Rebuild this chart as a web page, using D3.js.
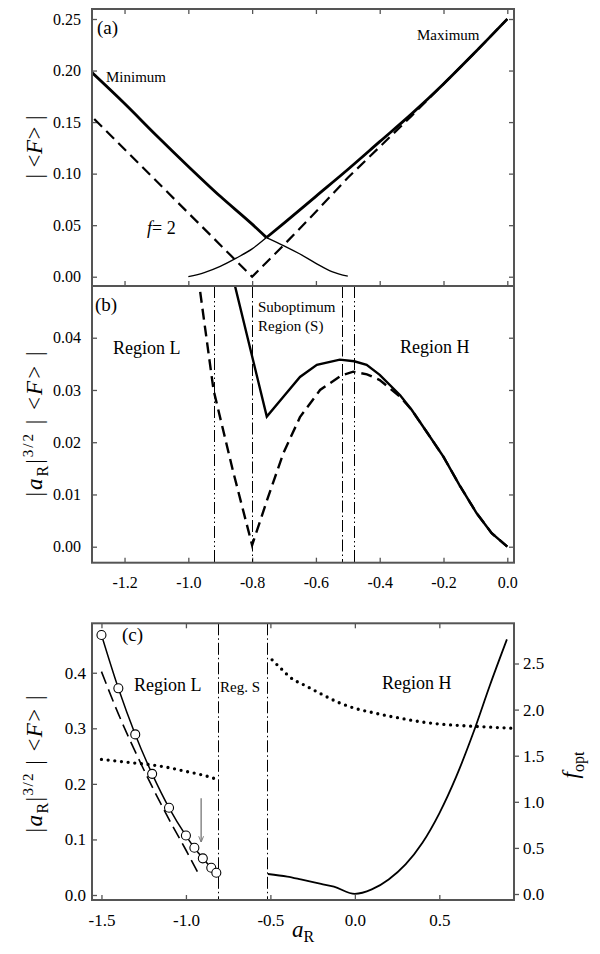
<!DOCTYPE html>
<html><head><meta charset="utf-8">
<script src="https://cdn.jsdelivr.net/npm/d3@7"></script>
<style>
body{margin:0;background:#fff}
svg{display:block}
text{font-family:"Liberation Serif","Times New Roman",serif;fill:#000}
</style>
</head><body>
<svg id="chart" width="600" height="954"></svg>
<script>
// ---------- DATA ----------
// Panel (a)
const aMinX = [-1.302, -1.2, -1.1, -1.0, -0.9, -0.8, -0.755];
const aMinY = [0.198, 0.168, 0.137, 0.107, 0.078, 0.051, 0.038];
const aMinTailX = [-0.755, -0.7, -0.65, -0.6, -0.55, -0.5];
const aMinTailY = [0.038, 0.030, 0.022, 0.013, 0.005, 0.0005];
const aMaxTailX = [-1.0, -0.95, -0.9, -0.85, -0.8, -0.755];
const aMaxTailY = [0.0, 0.004, 0.010, 0.018, 0.027, 0.038];
const aMaxX = [-0.755, -0.7, -0.6, -0.5, -0.4, -0.3, -0.2, -0.1, 0.0];
const aMaxY = [0.038, 0.052, 0.078, 0.104, 0.131, 0.158, 0.187, 0.218, 0.250];
const aF2X = [-1.295, -0.8, -0.7, -0.6, -0.5, -0.4, -0.3, -0.2, -0.1, 0.0];
const aF2Y = [0.153, 0.0, 0.031, 0.063, 0.096, 0.126, 0.156, 0.187, 0.218, 0.250];
// Panel (b)
const bSolidX = [-0.87, -0.754, -0.702, -0.65, -0.597, -0.525, -0.48, -0.441, -0.4, -0.336, -0.3, -0.253, -0.2, -0.15, -0.096, -0.049, 0.0];
const bSolidY = [0.054, 0.0249, 0.0287, 0.0325, 0.0348, 0.0358, 0.0355, 0.0348, 0.0329, 0.0290, 0.0262, 0.0220, 0.0172, 0.0118, 0.0064, 0.0026, 0.0];
const bDashX = [-0.97, -0.921, -0.86, -0.8, -0.75, -0.702, -0.65, -0.587, -0.52, -0.483, -0.44, -0.4, -0.336, -0.3, -0.253, -0.2, -0.15, -0.096, -0.049, 0.0];
const bDashY = [0.052, 0.030, 0.0145, 0.0003, 0.0095, 0.0179, 0.0248, 0.0300, 0.0328, 0.0335, 0.0330, 0.0319, 0.0287, 0.0262, 0.0220, 0.0172, 0.0118, 0.0064, 0.0026, 0.0];
const bBounds = [-0.921, -0.8, -0.519, -0.481];
// Panel (c)
const cCircX = [-1.5, -1.4, -1.3, -1.2, -1.1, -1.0, -0.95, -0.9, -0.85, -0.82];
const cCircY = [0.468, 0.372, 0.289, 0.218, 0.157, 0.107, 0.085, 0.066, 0.049, 0.040];
const cDashX = [-1.5, -1.4, -1.3, -1.2, -1.1, -1.0, -0.92];
const cDashY = [0.402, 0.326, 0.258, 0.195, 0.136, 0.081, 0.035];
const cFoptLX = [-1.5, -1.4, -1.3, -1.2, -1.1, -1.0, -0.9, -0.81];
const cFoptLY = [1.46, 1.44, 1.42, 1.40, 1.37, 1.33, 1.29, 1.24];
const cFoptHX = [-0.49, -0.44, -0.36, -0.32, -0.2, -0.1, 0.0, 0.1, 0.2, 0.27, 0.4, 0.5, 0.6, 0.74, 0.85, 0.94];
const cFoptHY = [2.54, 2.45, 2.32, 2.285, 2.17, 2.08, 2.014, 1.97, 1.93, 1.906, 1.865, 1.844, 1.83, 1.815, 1.805, 1.797];
const cHX = [-0.515, -0.4, -0.32, -0.2, -0.124, 0.0, 0.1, 0.2, 0.3, 0.4, 0.5, 0.6, 0.7, 0.8, 0.9];
const cHY = [0.0378, 0.033, 0.028, 0.020, 0.015, 0.002, 0.010, 0.028, 0.055, 0.094, 0.147, 0.213, 0.291, 0.378, 0.460];
const cBounds = [-0.81, -0.52];
const cArrowX = [-0.91];
const cArrowY = [0.174, 0.096];
// Ticks
const abXTicks = [-1.2, -1.0, -0.8, -0.6, -0.4, -0.2, 0.0];
const aYTicks = [0, 0.05, 0.10, 0.15, 0.20, 0.25];
const bYTicks = [0, 0.01, 0.02, 0.03, 0.04];
const cXTicks = [-1.5, -1.0, -0.5, 0.0, 0.5];
const cYTicks = [0, 0.1, 0.2, 0.3, 0.4];
const cY2Ticks = [0, 0.5, 1.0, 1.5, 2.0, 2.5];

// ---------- LAYOUT ----------
const SERIF = '"Liberation Serif","Times New Roman",serif';
const svg = d3.select("#chart");
const L = 92, R = 514;
const aTop = 9, aBot = 286, bBot = 562.7, cTop = 623.3, cBot = 900;

const xAB = d3.scaleLinear().domain([-1.302, 0.021]).range([L, R]);
const yA = d3.scaleLinear().domain([-0.009, 0.2597]).range([aBot, aTop]);
const yB = d3.scaleLinear().domain([-0.00306, 0.0499]).range([bBot, aBot]);
const xC = d3.scaleLinear().domain([-1.556, 0.942]).range([L, R]);
const yC = d3.scaleLinear().domain([-0.009, 0.489]).range([cBot, cTop]);
const yC2 = d3.scaleLinear().domain([-0.065, 2.936]).range([cBot, cTop]);

const zip = (xs, ys) => xs.map((x, i) => [x, ys[i]]);
const f1 = d => d.toFixed(1);
const f2 = d => d.toFixed(2);

const defs = svg.append("defs");
function clip(id, x0, y0, x1, y1) {
  defs.append("clipPath").attr("id", id).append("rect")
    .attr("x", x0).attr("y", y0).attr("width", x1 - x0).attr("height", y1 - y0);
}
clip("clipA", L, aTop, R, aBot);
clip("clipB", L, aBot, R, bBot);
clip("clipC", L, cTop, R, cBot);
defs.append("marker").attr("id", "arr").attr("viewBox", "0 0 10 10")
  .attr("refX", 9).attr("refY", 5).attr("markerWidth", 6).attr("markerHeight", 10)
  .attr("markerUnits", "userSpaceOnUse").attr("orient", "auto")
  .append("path").attr("d", "M0,1 L10,5 L0,9").attr("fill", "none").attr("stroke", "#777").attr("stroke-width", 1.6);

function line(g, data, xs, ys, style, curve) {
  const gen = d3.line().x(d => xs(d[0])).y(d => ys(d[1])).curve(curve || d3.curveMonotoneX);
  const p = g.append("path").attr("d", gen(data)).attr("fill", "none").attr("stroke", "#000");
  Object.entries(style).forEach(([k, v]) => p.attr(k, v));
  return p;
}

function styleAxis(g, size) {
  g.attr("font-family", SERIF).attr("font-size", size);
  g.select(".domain").remove();
  g.selectAll(".tick line").attr("stroke", "#555").attr("stroke-width", 1.3);
  g.selectAll(".tick text").attr("font-size", size).attr("fill", "#000")
    .style("font-family", SERIF);
}

// ---------- PANEL A ----------
const gA = svg.append("g");
styleAxis(gA.append("g").attr("transform", `translate(${L},0)`)
  .call(d3.axisLeft(yA).tickValues(aYTicks).tickSize(-5).tickPadding(11).tickFormat(f2)), 16);
styleAxis(gA.append("g").attr("transform", `translate(${R},0)`)
  .call(d3.axisRight(yA).tickValues(aYTicks).tickSize(-5).tickFormat("")), 16);
styleAxis(gA.append("g").attr("transform", `translate(0,${aTop})`)
  .call(d3.axisTop(xAB).tickValues(abXTicks).tickSize(-5).tickFormat("")), 16);
styleAxis(gA.append("g").attr("transform", `translate(0,${aBot})`)
  .call(d3.axisBottom(xAB).tickValues(abXTicks).tickSize(-5).tickFormat("")), 16);

const pA = gA.append("g").attr("clip-path", "url(#clipA)");
line(pA, zip(aMinX, aMinY), xAB, yA, {"stroke-width": 2.8});
line(pA, zip(aMinTailX, aMinTailY), xAB, yA, {"stroke-width": 1.3});
line(pA, zip(aMaxTailX, aMaxTailY), xAB, yA, {"stroke-width": 1.3});
line(pA, zip(aMaxX, aMaxY), xAB, yA, {"stroke-width": 2.8});
line(pA, zip(aF2X, aF2Y), xAB, yA, {"stroke-width": 2.2, "stroke-dasharray": "11,6"}, d3.curveLinear);

gA.append("text").attr("x", 97).attr("y", 34).attr("font-size", 19).text("(a)");
gA.append("text").attr("x", 106).attr("y", 82).attr("font-size", 15).text("Minimum");
gA.append("text").attr("x", 417).attr("y", 40).attr("font-size", 15).text("Maximum");
const tf = gA.append("text").attr("x", 147).attr("y", 234).attr("font-size", 18);
tf.append("tspan").attr("font-style", "italic").text("f");
tf.append("tspan").text("= 2");

// ---------- PANEL B ----------
const gB = svg.append("g");
styleAxis(gB.append("g").attr("transform", `translate(${L},0)`)
  .call(d3.axisLeft(yB).tickValues(bYTicks).tickSize(-5).tickPadding(11).tickFormat(f2)), 16);
styleAxis(gB.append("g").attr("transform", `translate(${R},0)`)
  .call(d3.axisRight(yB).tickValues(bYTicks).tickSize(-5).tickFormat("")), 16);
styleAxis(gB.append("g").attr("transform", `translate(0,${bBot})`)
  .call(d3.axisBottom(xAB).tickValues(abXTicks).tickSize(-5).tickPadding(14).tickFormat(f1)), 16);

const bStyles = ["12,3,1.5,3,1.5,3", "12,3,1.5,3", "12,3,1.5,3", "12,3,1.5,3,1.5,3"];
gB.selectAll("line.bb").data(bBounds).enter().append("line")
  .attr("x1", d => Math.round(xAB(d)) + 0.5).attr("x2", d => Math.round(xAB(d)) + 0.5)
  .attr("y1", aBot).attr("y2", bBot)
  .attr("stroke", "#000").attr("stroke-width", 1)
  .attr("stroke-dasharray", (d, i) => bStyles[i]);

const pB = gB.append("g").attr("clip-path", "url(#clipB)");
line(pB, zip(bDashX, bDashY), xAB, yB, {"stroke-width": 2.4, "stroke-dasharray": "11,6"}, d3.curveLinear);
line(pB, zip(bSolidX, bSolidY), xAB, yB, {"stroke-width": 2.4}, d3.curveLinear);

gB.append("text").attr("x", 95).attr("y", 311).attr("font-size", 19).text("(b)");
gB.append("text").attr("x", 113).attr("y", 354).attr("font-size", 18).text("Region L");
gB.append("text").attr("x", 258).attr("y", 312).attr("font-size", 15).text("Suboptimum");
gB.append("text").attr("x", 258).attr("y", 331).attr("font-size", 15).text("Region (S)");
gB.append("text").attr("x", 400).attr("y", 353).attr("font-size", 18).text("Region H");

// ---------- PANEL C ----------
const gC = svg.append("g");
styleAxis(gC.append("g").attr("transform", `translate(${L},0)`)
  .call(d3.axisLeft(yC).tickValues(cYTicks).tickSize(-5).tickPadding(6).tickFormat(f1)), 17);
styleAxis(gC.append("g").attr("transform", `translate(${R},0)`)
  .call(d3.axisRight(yC2).tickValues(cY2Ticks).tickSize(5).tickPadding(4).tickFormat(f1)), 17);
styleAxis(gC.append("g").attr("transform", `translate(0,${cBot})`)
  .call(d3.axisBottom(xC).tickValues(cXTicks).tickSize(-5).tickPadding(14).tickFormat(f1)), 17);
styleAxis(gC.append("g").attr("transform", `translate(0,${cTop})`)
  .call(d3.axisTop(xC).tickValues(cXTicks).tickSize(-5).tickFormat("")), 17);

gC.selectAll("line.cb").data(cBounds).enter().append("line")
  .attr("x1", d => Math.round(xC(d)) + 0.5).attr("x2", d => Math.round(xC(d)) + 0.5)
  .attr("y1", cTop).attr("y2", cBot)
  .attr("stroke", "#000").attr("stroke-width", 1)
  .attr("stroke-dasharray", "12,3,1.5,3");

const pC = gC.append("g").attr("clip-path", "url(#clipC)");
line(pC, zip(cDashX, cDashY), xC, yC, {"stroke-width": 1.6, "stroke-dasharray": "13,6"});
line(pC, zip(cFoptLX, cFoptLY), xC, yC2, {"stroke-width": 3.3, "stroke-dasharray": "0,6.7", "stroke-linecap": "round"});
line(pC, zip(cFoptHX, cFoptHY), xC, yC2, {"stroke-width": 3.3, "stroke-dasharray": "0,6.7", "stroke-linecap": "round"});
line(pC, zip(cHX, cHY), xC, yC, {"stroke-width": 1.8});
line(pC, zip(cCircX, cCircY), xC, yC, {"stroke-width": 1.5});
pC.selectAll("circle").data(zip(cCircX, cCircY)).enter().append("circle")
  .attr("cx", d => xC(d[0])).attr("cy", d => yC(d[1])).attr("r", 4.5)
  .attr("fill", "#fff").attr("stroke", "#000").attr("stroke-width", 1.1);

gC.append("line")
  .attr("x1", xC(cArrowX[0])).attr("x2", xC(cArrowX[0]))
  .attr("y1", yC(cArrowY[0])).attr("y2", yC(cArrowY[1]))
  .attr("stroke", "#777").attr("stroke-width", 1.3).attr("marker-end", "url(#arr)");

gC.append("text").attr("x", 122).attr("y", 641).attr("font-size", 19).text("(c)");
gC.append("text").attr("x", 134).attr("y", 691).attr("font-size", 18).text("Region L");
gC.append("text").attr("x", 220).attr("y", 692).attr("font-size", 15).text("Reg. S");
gC.append("text").attr("x", 382).attr("y", 689).attr("font-size", 18).text("Region H");

// ---------- FRAMES ----------
[[aTop, aBot], [aBot, bBot], [cTop, cBot]].forEach(([t, b]) => {
  svg.append("rect").attr("x", L).attr("y", t).attr("width", R - L).attr("height", b - t)
    .attr("fill", "none").attr("stroke", "#555").attr("stroke-width", 2);
});

// ---------- AXIS TITLES ----------
function ylab(cx, cy, size, len, parts) {
  const t = svg.append("text").attr("transform", `translate(${cx},${cy}) rotate(-90)`)
    .attr("text-anchor", "middle").attr("font-size", size);
  if (len) t.attr("textLength", len).attr("lengthAdjust", "spacing");
  parts.forEach(p => {
    const s = t.append("tspan").text(p.t);
    if (p.i) s.attr("font-style", "italic");
    if (p.fs) s.attr("font-size", p.fs);
    if (p.dy) s.attr("dy", p.dy);
  });
  return t;
}
ylab(42, 147, 23, 63, [{t: "| <"}, {t: "F", i: 1}, {t: "> |"}]);
const longLab = [{t: "|"}, {t: "a", i: 1}, {t: "R", fs: 16, dy: 6}, {t: "|", dy: -6}, {t: "3/2", fs: 15, dy: -9}, {t: " | <", dy: 9}, {t: "F", i: 1}, {t: "> |"}];
ylab(42, 424, 23, 145, longLab);
ylab(42, 764, 23, 137, longLab);
ylab(578, 765, 23, null, [{t: "f", i: 1}, {t: "opt", fs: 16, dy: 6}]);

const xl = svg.append("text").attr("x", 292).attr("y", 937).attr("font-size", 23);
xl.append("tspan").attr("font-style", "italic").text("a");
xl.append("tspan").attr("font-size", 16).attr("dy", 5).text("R");
</script>
</body></html>
